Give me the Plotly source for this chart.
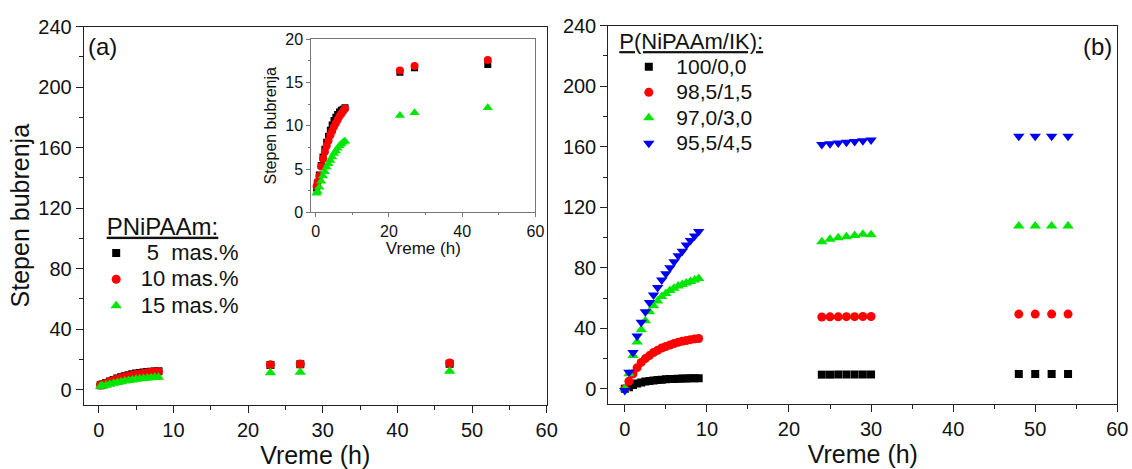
import plotly.graph_objects as go

FONT = "Liberation Sans, Arial, sans-serif"

# ---------------- Panel (a): PNiPAAm hydrogels ----------------
a_time = [0.25, 0.5, 1.0, 1.5, 2.0, 2.5, 3.0, 3.5, 4.0, 4.5, 5.0, 5.5, 6.0, 6.5, 7.0, 7.5, 8.0,
          23, 27, 47]
a_5 = [2.8, 3.4, 4.3, 5.4, 6.4, 7.3, 8.1, 8.8, 9.5, 10.1, 10.6, 11.0, 11.3, 11.6, 11.8, 11.9, 12.1,
       16.2, 16.7, 17.1]
a_10 = [3.0, 3.5, 4.2, 5.3, 6.2, 7.0, 7.7, 8.3, 8.9, 9.4, 9.9, 10.3, 10.7, 11.1, 11.4, 11.7, 12.0,
        16.4, 16.9, 17.6]
a_15 = [2.2, 2.4, 2.9, 3.6, 4.2, 4.7, 5.2, 5.6, 6.0, 6.4, 6.8, 7.1, 7.4, 7.7, 7.9, 8.1, 8.2,
        11.2, 11.5, 12.1]
a_names = ["\u00a05\u00a0\u00a0mas.%", "10 mas.%", "15 mas.%"]

# ---------------- Panel (b): P(NiPAAm/IK) hydrogels ----------------
b_time = [0, 0.5, 1.0, 1.5, 2.0, 2.5, 3.0, 3.5, 4.0, 4.5, 5.0, 5.5, 6.0, 6.5, 7.0, 7.5, 8.0, 8.5, 9.0,
          24, 25, 26, 27, 28, 29, 30,
          48, 50, 52, 54]
b_100 = [0, 1.0, 2.5, 3.5, 4.2, 4.8, 5.2, 5.6, 5.9, 6.1, 6.3, 6.5, 6.6, 6.7, 6.8, 6.9, 7.0, 7.0, 7.0,
         9.4, 9.4, 9.5, 9.5, 9.5, 9.5, 9.5,
         9.9, 9.9, 9.9, 9.9]
b_985 = [0, 5, 10, 14, 17.5, 20, 22, 24, 25.5, 27, 28, 29, 30, 30.8, 31.5, 32, 32.5, 33, 33.3,
         47.5, 47.6, 47.6, 47.7, 47.7, 47.8, 47.8,
         49.4, 49.4, 49.4, 49.4]
b_970 = [0, 10, 22, 31, 39, 45, 51, 55, 58, 61, 63, 65, 66.5, 68, 69, 70, 71, 72, 73,
         97.3, 98.8, 99.9, 100.6, 101.4, 102.1, 101.9,
         107.6, 107.6, 107.6, 107.6]
b_955 = [-1, 11, 24, 35, 44, 51, 57, 62, 67, 72, 76, 80, 84, 88, 91, 95, 98, 101, 104,
         161.5, 162.0, 162.5, 163.0, 163.5, 164.0, 164.5,
         166.9, 166.9, 166.9, 166.9]
b_names = ["100/0,0", "98,5/1,5", "97,0/3,0", "95,5/4,5"]

x_ticks = [0, 10, 20, 30, 40, 50, 60]
y_ticks = [0, 40, 80, 120, 160, 200, 240]
inset_x_ticks = [0, 20, 40, 60]
inset_y_ticks = [0, 5, 10, 15, 20]

colors = ["#000000", "#ff0000", "#00e600", "#0000f0"]
symbols = ["square", "circle", "triangle-up", "triangle-down"]
sizes = [8, 9, 10, 10]


def big(txt, size):
    return f"<span style='font-size:{size}px'>{txt}</span>"


fig = go.Figure()

a_series = [a_5, a_10, a_15]
for i, ys in enumerate(a_series):
    fig.add_trace(go.Scatter(
        x=a_time, y=ys, mode="markers", name=big(a_names[i], 22),
        marker=dict(symbol=symbols[i], color=colors[i], size=sizes[i], line=dict(width=0)),
        xaxis="x", yaxis="y", legend="legend"))

for i, ys in enumerate(a_series):
    fig.add_trace(go.Scatter(
        x=a_time, y=ys, mode="markers", showlegend=False,
        marker=dict(symbol=symbols[i], color=colors[i], size=sizes[i] - 1, line=dict(width=0)),
        xaxis="x3", yaxis="y3"))

b_series = [b_100, b_985, b_970, b_955]
for i, ys in enumerate(b_series):
    fig.add_trace(go.Scatter(
        x=b_time, y=ys, mode="markers", name=big(b_names[i], 21),
        marker=dict(symbol=symbols[i], color=colors[i], size=sizes[i], line=dict(width=0)),
        xaxis="x2", yaxis="y2", legend="legend2"))

# the page body margin is removed by the post script, so the figure fills the window
W, H = 1132, 469


def px_x(p):
    return p / W


def px_y(p):
    return 1 - p / H


def main_axis(domain, rng, ticks, minor_dtick, title=None, title_size=25, standoff=4):
    ax = dict(
        domain=domain, range=rng, tickvals=ticks, ticktext=[str(t) for t in ticks],
        automargin=False, ticklabeloverflow="allow",
        showgrid=False, zeroline=False, showline=True, linecolor="#222222", linewidth=1.3,
        mirror=True, ticks="outside", ticklen=7, tickwidth=1.2, tickcolor="#222222",
        tickfont=dict(family=FONT, size=20, color="#111111"),
        minor=dict(ticks="outside", ticklen=4, tickwidth=1.1, tickcolor="#222222",
                   dtick=minor_dtick, tick0=0, showgrid=False),
    )
    if title:
        ax["title"] = dict(text=title, font=dict(family=FONT, size=title_size, color="#111111"),
                           standoff=standoff)
    return ax


layout = dict(
    template="none",
    width=W, height=H, autosize=False,
    margin=dict(l=0, r=0, t=0, b=0, pad=0),
    paper_bgcolor="white", plot_bgcolor="white",
    font=dict(family=FONT, color="#111111"),
    xaxis=main_axis([px_x(83.8), px_x(546.7)], [-2, 60], x_ticks, 5, "Vreme (h)", 25, 4),
    yaxis=main_axis([px_y(404.7), px_y(26.7)], [-10, 240], y_ticks, 20, "Stepen bubrenja", 25, 1),
    xaxis2=main_axis([px_x(608.4), px_x(1117.3)], [-2, 60], x_ticks, 5, "Vreme (h)", 25, 4),
    yaxis2=main_axis([px_y(404), px_y(25.7)], [-10, 240], y_ticks, 20),
)
layout["xaxis"]["anchor"] = "y"
layout["yaxis"]["anchor"] = "x"
layout["xaxis2"]["anchor"] = "y2"
layout["yaxis2"]["anchor"] = "x2"

inset_common = dict(showgrid=False, zeroline=False, showline=True, linecolor="#777777",
                    linewidth=1, mirror=True, ticks="outside", ticklen=4, tickwidth=1,
                    tickcolor="#777777", automargin=False,
                    tickfont=dict(family=FONT, size=16, color="#111111"))
layout["xaxis3"] = dict(domain=[px_x(311.3), px_x(535.4)], range=[-1.2, 60], anchor="y3",
                        tickvals=inset_x_ticks, ticktext=[str(t) for t in inset_x_ticks],
                        minor=dict(ticks="outside", ticklen=2, dtick=10, tick0=0, tickcolor="#777777"),
                        title=dict(text="Vreme (h)", font=dict(family=FONT, size=17, color="#111111"),
                                   standoff=2),
                        **inset_common)
layout["yaxis3"] = dict(domain=[px_y(212.3), px_y(39.3)], range=[0, 20], anchor="x3",
                        tickvals=inset_y_ticks, ticktext=[str(t) for t in inset_y_ticks],
                        minor=dict(ticks="outside", ticklen=2, dtick=2.5, tick0=0, tickcolor="#777777"),
                        title=dict(text="Stepen bubrenja", font=dict(family=FONT, size=16, color="#111111"),
                                   standoff=4),
                        **inset_common)

layout["legend"] = dict(
    x=px_x(104.7), y=px_y(203.5), xanchor="left", yanchor="top",
    bgcolor="rgba(0,0,0,0)", borderwidth=0,
    font=dict(family=FONT, size=18, color="#111111"),
    title=dict(text="<u>PNiPAAm:</u>", font=dict(family=FONT, size=24, color="#111111")),
    itemwidth=39, indentation=-13, tracegroupgap=0,
)
layout["legend2"] = dict(
    x=px_x(617.3), y=px_y(20.5), xanchor="left", yanchor="top",
    bgcolor="rgba(0,0,0,0)", borderwidth=0,
    font=dict(family=FONT, size=17.3, color="#111111"),
    title=dict(text="<u>P(NiPAAm/IK):</u>", font=dict(family=FONT, size=22, color="#111111")),
    itemwidth=45, indentation=4, tracegroupgap=0,
)

layout["annotations"] = [
    dict(text="(a)", x=px_x(102), y=px_y(47), xref="paper", yref="paper", showarrow=False,
         font=dict(family=FONT, size=24, color="#111111"), xanchor="center", yanchor="middle"),
    dict(text="(b)", x=px_x(1097), y=px_y(47), xref="paper", yref="paper", showarrow=False,
         font=dict(family=FONT, size=24, color="#111111"), xanchor="center", yanchor="middle"),
]

fig.update_layout(**layout)
fig.write_html(
    "out.html",
    config={"displayModeBar": False},
    post_script="document.body.style.margin='0px';document.body.style.overflow='hidden';",
)
